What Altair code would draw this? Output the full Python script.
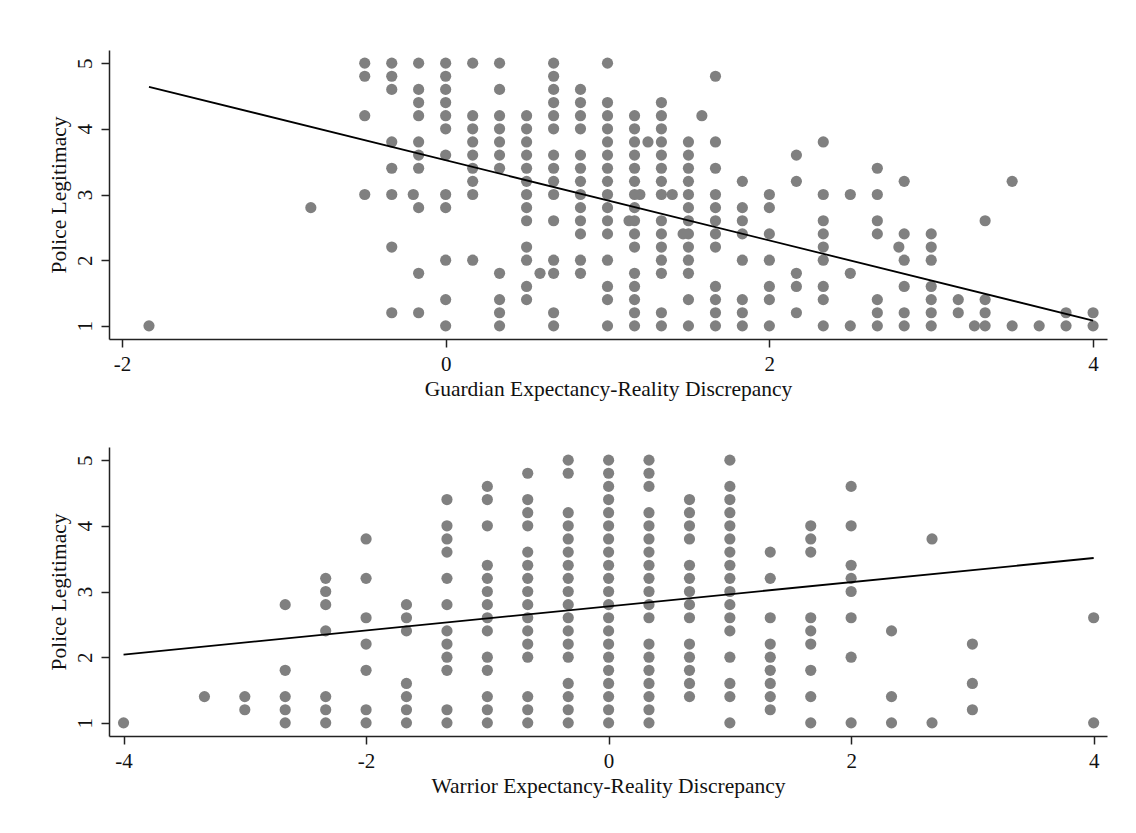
import altair as alt
import pandas as pd

# ---------------- Top panel: Guardian discrepancy ----------------
guardian_x_levels = [
    -1.833, -0.833, -0.5, -0.333, -0.2, -0.167, 0.0, 0.167, 0.333, 0.5, 0.583,
    0.667, 0.833, 1.0, 1.133, 1.167, 1.2, 1.25, 1.333, 1.4, 1.467, 1.5, 1.583,
    1.667, 1.833, 2.0, 2.167, 2.333, 2.5, 2.667, 2.8, 2.833, 3.0, 3.167, 3.267,
    3.333, 3.5, 3.667, 3.833, 4.0,
]
guardian_y_by_level = [
    [1.0],
    [2.8],
    [5.0, 4.8, 4.2, 3.0],
    [5.0, 4.8, 4.6, 3.8, 3.4, 3.0, 2.2, 1.2],
    [3.0],
    [5.0, 4.6, 4.4, 4.2, 3.8, 3.6, 3.4, 2.8, 1.8, 1.2],
    [5.0, 4.8, 4.6, 4.4, 4.2, 4.0, 3.6, 3.0, 2.8, 2.0, 1.4, 1.0],
    [5.0, 4.2, 4.0, 3.8, 3.6, 3.4, 3.2, 3.0, 2.0],
    [5.0, 4.6, 4.2, 4.0, 3.8, 3.6, 3.4, 1.8, 1.4, 1.2, 1.0],
    [4.2, 4.0, 3.8, 3.6, 3.4, 3.2, 3.0, 2.8, 2.6, 2.2, 2.0, 1.6, 1.4],
    [1.8],
    [5.0, 4.8, 4.6, 4.4, 4.2, 4.0, 3.6, 3.4, 3.2, 3.0, 2.6, 2.0, 1.8, 1.2, 1.0],
    [4.6, 4.4, 4.2, 4.0, 3.6, 3.4, 3.2, 3.0, 2.8, 2.6, 2.4, 2.0, 1.8],
    [5.0, 4.4, 4.2, 4.0, 3.8, 3.6, 3.4, 3.2, 3.0, 2.8, 2.6, 2.4, 2.0, 1.6, 1.4, 1.0],
    [2.6],
    [4.2, 4.0, 3.8, 3.6, 3.4, 3.2, 3.0, 2.8, 2.6, 2.4, 2.2, 1.8, 1.6, 1.4, 1.2, 1.0],
    [3.0],
    [3.8],
    [4.4, 4.2, 4.0, 3.8, 3.6, 3.4, 3.2, 3.0, 2.6, 2.4, 2.2, 2.0, 1.8, 1.2, 1.0],
    [3.0],
    [2.4],
    [3.8, 3.6, 3.4, 3.2, 3.0, 2.8, 2.6, 2.4, 2.2, 2.0, 1.8, 1.4, 1.0],
    [4.2],
    [4.8, 3.8, 3.4, 3.0, 2.8, 2.6, 2.4, 2.2, 1.6, 1.4, 1.2, 1.0],
    [3.2, 2.8, 2.6, 2.4, 2.0, 1.4, 1.2, 1.0],
    [3.0, 2.8, 2.4, 2.0, 1.6, 1.4, 1.0],
    [3.6, 3.2, 1.8, 1.6, 1.2],
    [3.8, 3.0, 2.6, 2.4, 2.2, 2.0, 1.6, 1.4, 1.0],
    [3.0, 1.8, 1.0],
    [3.4, 3.0, 2.6, 2.4, 1.4, 1.2, 1.0],
    [2.2],
    [3.2, 2.4, 2.0, 1.6, 1.2, 1.0],
    [2.4, 2.2, 2.0, 1.6, 1.4, 1.2, 1.0],
    [1.4, 1.2],
    [1.0],
    [2.6, 1.4, 1.2, 1.0],
    [3.2, 1.0],
    [1.0],
    [1.2, 1.0],
    [1.2, 1.0],
]
guardian_fit_x = [-1.833, 4.0]
guardian_fit_y = [4.64, 1.08]

# ---------------- Bottom panel: Warrior discrepancy ----------------
warrior_x_levels = [
    -4.0, -3.333, -3.0, -2.667, -2.333, -2.0, -1.667, -1.333, -1.0, -0.667,
    -0.333, 0.0, 0.333, 0.667, 1.0, 1.333, 1.667, 2.0, 2.333, 2.667, 3.0, 4.0,
]
warrior_y_by_level = [
    [1.0],
    [1.4],
    [1.4, 1.2],
    [2.8, 1.8, 1.4, 1.2, 1.0],
    [3.2, 3.0, 2.8, 2.4, 1.4, 1.2, 1.0],
    [3.8, 3.2, 2.6, 2.2, 1.8, 1.2, 1.0],
    [2.8, 2.6, 2.4, 1.6, 1.4, 1.2, 1.0],
    [4.4, 4.0, 3.8, 3.6, 3.2, 2.8, 2.4, 2.2, 2.0, 1.8, 1.2, 1.0],
    [4.6, 4.4, 4.0, 3.4, 3.2, 3.0, 2.8, 2.6, 2.4, 2.0, 1.8, 1.4, 1.2, 1.0],
    [4.8, 4.4, 4.2, 4.0, 3.6, 3.4, 3.2, 3.0, 2.8, 2.6, 2.4, 2.2, 2.0, 1.4, 1.2, 1.0],
    [5.0, 4.8, 4.2, 4.0, 3.8, 3.6, 3.4, 3.2, 3.0, 2.8, 2.6, 2.4, 2.2, 2.0, 1.6, 1.4, 1.2, 1.0],
    [5.0, 4.8, 4.6, 4.4, 4.2, 4.0, 3.8, 3.6, 3.4, 3.2, 3.0, 2.8, 2.6, 2.4, 2.2, 2.0, 1.8, 1.6, 1.4, 1.2, 1.0],
    [5.0, 4.8, 4.6, 4.2, 4.0, 3.8, 3.6, 3.4, 3.2, 3.0, 2.8, 2.6, 2.2, 2.0, 1.8, 1.6, 1.4, 1.2, 1.0],
    [4.4, 4.2, 4.0, 3.8, 3.4, 3.2, 3.0, 2.8, 2.6, 2.2, 2.0, 1.8, 1.6, 1.4],
    [5.0, 4.6, 4.4, 4.2, 4.0, 3.8, 3.6, 3.4, 3.2, 3.0, 2.8, 2.6, 2.4, 2.0, 1.6, 1.4, 1.0],
    [3.6, 3.2, 2.6, 2.2, 2.0, 1.8, 1.6, 1.4, 1.2],
    [4.0, 3.8, 3.6, 2.6, 2.4, 2.2, 1.8, 1.4, 1.0],
    [4.6, 4.0, 3.4, 3.2, 3.0, 2.6, 2.0, 1.0],
    [2.4, 1.4, 1.0],
    [3.8, 1.0],
    [2.2, 1.6, 1.2],
    [2.6, 1.0],
]
warrior_fit_x = [-4.0, 4.0]
warrior_fit_y = [2.04, 3.51]

y_ticks = [1, 2, 3, 4, 5]
guardian_ticks = [-2, 0, 2, 4]
warrior_ticks = [-4, -2, 0, 2, 4]

FONT = "Liberation Serif"
POINT_COLOR = "#808080"


def flatten(levels, ys):
    rows = []
    for xv, col in zip(levels, ys):
        for yv in col:
            rows.append({"x": xv, "y": yv})
    return pd.DataFrame(rows)


def panel(levels, ys, fit_x, fit_y, xdomain, xticks, xtitle):
    pts = flatten(levels, ys)
    fit = pd.DataFrame({"x": fit_x, "y": fit_y})
    xs = alt.Scale(domain=xdomain, nice=False, zero=False)
    ysc = alt.Scale(domain=[0.8, 5.2], nice=False, zero=False)
    xax = alt.Axis(values=xticks, title=xtitle, labelExpr="'' + datum.value")
    yax = alt.Axis(values=y_ticks, title="Police Legitimacy", labelAngle=270,
                   labelExpr="'' + datum.value")
    points = alt.Chart(pts).mark_circle(size=125, color=POINT_COLOR, opacity=1).encode(
        x=alt.X("x:Q", scale=xs, axis=xax),
        y=alt.Y("y:Q", scale=ysc, axis=yax),
    )
    line = alt.Chart(fit).mark_line(color="black", strokeWidth=1.8).encode(
        x=alt.X("x:Q", scale=xs),
        y=alt.Y("y:Q", scale=ysc),
    )
    return alt.layer(points, line).properties(width=998, height=289)


top = panel(guardian_x_levels, guardian_y_by_level, guardian_fit_x, guardian_fit_y,
            [-2.08, 4.086], guardian_ticks, "Guardian Expectancy-Reality Discrepancy")
bottom = panel(warrior_x_levels, warrior_y_by_level, warrior_fit_x, warrior_fit_y,
               [-4.12, 4.11], warrior_ticks, "Warrior Expectancy-Reality Discrepancy")

chart = alt.vconcat(top, bottom, spacing=47).properties(
    padding={"left": 40, "top": 42, "right": 5, "bottom": 5},
    background="white",
).configure_view(stroke=None).configure_axis(
    grid=False,
    domainColor="#222222",
    domainWidth=1.5,
    tickColor="#222222",
    tickWidth=1.5,
    tickSize=8,
    labelFont=FONT,
    labelFontSize=21,
    labelColor="#111111",
    titleFont=FONT,
    titleFontSize=21.5,
    titleFontWeight="normal",
    titleColor="#111111",
    labelPadding=6,
    titlePadding=4,
)

chart.save("out.html", embed_options={"renderer": "svg", "actions": False})
